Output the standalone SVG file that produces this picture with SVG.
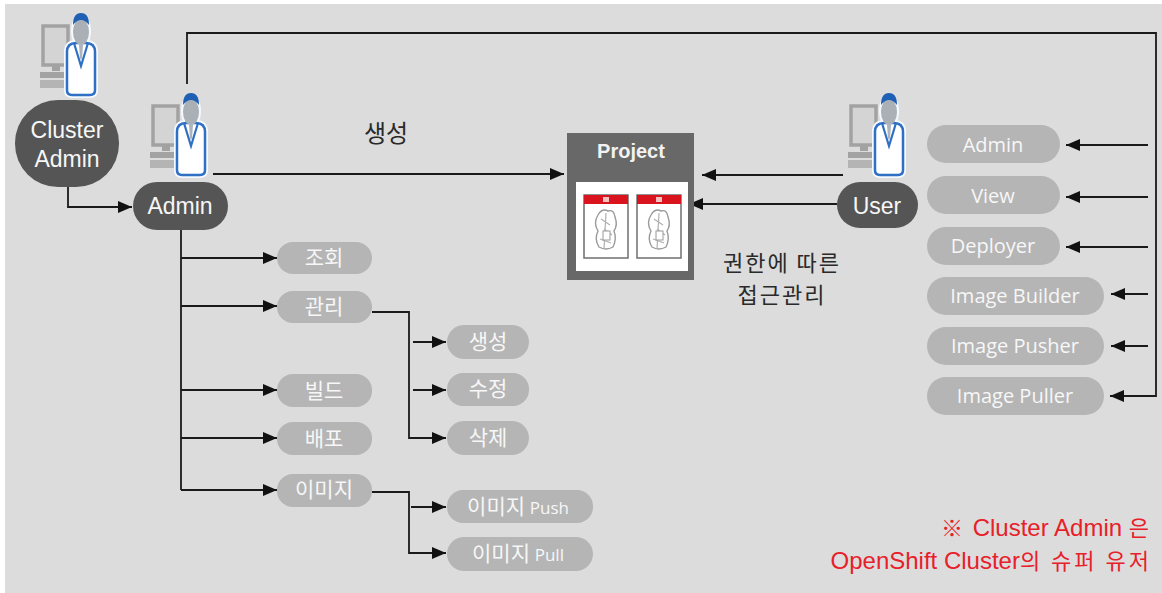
<svg xmlns="http://www.w3.org/2000/svg" xmlns:xlink="http://www.w3.org/1999/xlink" width="1162" height="593" viewBox="0 0 1162 593">
  <style>
    .dark { fill: #555555; }
    .pill { fill: #b5b5b5; }
    .wt { fill: #f7f7f7; font-family: "Liberation Sans", Arial, sans-serif; font-size: 23px; text-anchor: middle; }
    .kr { fill: #f7f7f7; font-family: "Noto Sans CJK KR", "Noto Sans", sans-serif; font-size: 21px; text-anchor: middle; }
    .en { fill: #f7f7f7; font-family: "Open Sans", "Noto Sans", sans-serif; font-size: 20px; text-anchor: middle; }
    .lbl { fill: #2a2a2a; font-family: "Noto Sans CJK KR", "Noto Sans", sans-serif; font-size: 24px; text-anchor: middle; }
    .lbl2 { fill: #2a2a2a; font-family: "Noto Sans CJK KR", "Noto Sans", sans-serif; font-size: 22px; letter-spacing: 2px; text-anchor: middle; }
    .note { fill: #e8202a; font-family: "Liberation Sans", Arial, "Noto Sans CJK KR", sans-serif; font-size: 24px; text-anchor: end; }
    .note .h { font-family: "Noto Sans CJK KR", sans-serif; font-size: 22px; letter-spacing: 3px; }
    .wire { fill: none; stroke: #1a1a1a; stroke-width: 1.8; }
    .arr { marker-end: url(#head); }
  </style>
  <defs>
    <marker id="head" markerUnits="userSpaceOnUse" markerWidth="14" markerHeight="12" refX="14" refY="6" orient="auto">
      <path d="M0,0 L14,6 L0,12 Z" fill="#111"/>
    </marker>
    <!-- workstation with a user standing next to it -->
    <symbol id="person" overflow="visible">
      <!-- monitor and keyboard -->
      <rect x="3" y="14" width="25" height="39" fill="#d4d4d4" stroke="#a2a2a2" stroke-width="3.5"/>
      <rect x="12" y="53" width="8" height="6" fill="#a2a2a2"/>
      <rect x="0" y="60" width="28" height="6" fill="#a2a2a2"/>
      <rect x="0" y="68" width="28" height="8" fill="#b4b4b4"/>
      <!-- halo -->
      <path d="M27,40 Q27,31 36,31 L46,31 Q55,31 55,40 L55,78 Q55,83 50,83 L32,83 Q27,83 27,78 Z" fill="#fff" stroke="#f4f8ff" stroke-width="6"/>
      <ellipse cx="41" cy="19" rx="10" ry="17" fill="#f4f8ff"/>
      <!-- body -->
      <path d="M27,40 Q27,31 36,31 L46,31 Q55,31 55,40 L55,78 Q55,83 50,83 L32,83 Q27,83 27,78 Z" fill="#ffffff" stroke="#2f6fc4" stroke-width="2.5"/>
      <path d="M34,31 L41,54 L48,31" fill="none" stroke="#2f6fc4" stroke-width="2.2"/>
      <path d="M39,33 L43,33 L42,46 L41,48 L40,46 Z" fill="#aeb4ba"/>
      <!-- head -->
      <ellipse cx="41" cy="20" rx="8" ry="13" fill="#aab0b6"/>
      <path d="M33,13 Q33,1 41,1 Q49,1 49,13 Q45,8 41,8 Q37,8 33,13 Z" fill="#1f5fb4"/>
    </symbol>
    <!-- document page with a red title bar -->
    <symbol id="doc" overflow="visible">
      <rect x="0" y="0" width="44" height="63" fill="#ffffff" stroke="#6f6f6f" stroke-width="1.5"/>
      <rect x="0" y="0" width="44" height="9" fill="#d9141f"/>
      <rect x="19" y="2" width="6" height="5" fill="#f4c0c0"/>
      <path d="M14,20 Q18,13 24,16 Q30,14 31,22 Q34,30 30,36 Q33,44 29,52 Q22,56 15,52 Q10,44 14,36 Q9,28 14,20 Z" fill="none" stroke="#9a9a9a" stroke-width="1.4"/>
      <path d="M17,24 L26,30 M20,34 L28,40 M16,44 L27,48 M22,18 L20,54" fill="none" stroke="#b0b0b0" stroke-width="1.2"/>
      <rect x="19" y="36" width="7" height="9" fill="#ffffff" stroke="#9a9a9a" stroke-width="1"/>
    </symbol>
  </defs>

  <!-- canvas -->
  <rect x="0" y="0" width="1162" height="593" fill="#ffffff"/>
  <rect x="5" y="4" width="1157" height="589" fill="#dcdcdc"/>

  <!-- connectors -->
  <g id="connectors">
    <path class="wire arr" d="M68,187 V207 H132"/>
    <path class="wire arr" d="M213,174 H564"/>
    <path class="wire arr" d="M187,84 V33 H1156 V396 H1110"/>
    <path class="wire arr" d="M843,175 H702"/>
    <path class="wire arr" d="M837,204 H689"/>
    <path class="wire arr" d="M1148,145 H1066"/>
    <path class="wire arr" d="M1148,197 H1066"/>
    <path class="wire arr" d="M1148,247 H1066"/>
    <path class="wire arr" d="M1148,294 H1111"/>
    <path class="wire arr" d="M1148,346 H1111"/>
    <path class="wire" d="M181,230 V490"/>
    <path class="wire arr" d="M181,258 H277"/>
    <path class="wire arr" d="M181,306 H277"/>
    <path class="wire arr" d="M181,390 H277"/>
    <path class="wire arr" d="M181,438 H277"/>
    <path class="wire arr" d="M181,490 H277"/>
    <path class="wire arr" d="M372,312 H409 V438 H446"/>
    <path class="wire arr" d="M413,342 H446"/>
    <path class="wire arr" d="M413,390 H446"/>
    <path class="wire arr" d="M372,492 H409 V553 H446"/>
    <path class="wire arr" d="M411,507 H446"/>
  </g>

  <!-- cluster admin -->
  <g id="cluster-admin">
    <use xlink:href="#person" href="#person" x="40" y="12"/>
    <rect class="dark" x="15" y="100" width="104" height="87" rx="43" ry="43"/>
    <text class="wt" x="67" y="138">Cluster</text>
    <text class="wt" x="67" y="167">Admin</text>
  </g>

  <!-- admin -->
  <g id="admin">
    <use xlink:href="#person" href="#person" x="150" y="92"/>
    <rect class="dark" x="133" y="182" width="95" height="48" rx="24"/>
    <text class="wt" x="180" y="214">Admin</text>
  </g>

  <text class="lbl" x="386" y="142">생성</text>

  <!-- project -->
  <g id="project">
    <rect x="567" y="133" width="127" height="147" fill="#686868"/>
    <text x="631" y="158" fill="#f2f2f2" font-family="Liberation Sans, Arial, sans-serif" font-size="20" font-weight="bold" text-anchor="middle">Project</text>
    <rect x="576" y="182" width="112" height="89" fill="#ffffff"/>
    <use xlink:href="#doc" href="#doc" x="584" y="195"/>
    <use xlink:href="#doc" href="#doc" x="637" y="195"/>
  </g>

  <text class="lbl2" x="782" y="271">권한에 따른</text>
  <text class="lbl2" x="782" y="303">접근관리</text>

  <!-- user -->
  <g id="user">
    <use xlink:href="#person" href="#person" x="848" y="92"/>
    <rect class="dark" x="837" y="182" width="81" height="46" rx="23"/>
    <text class="wt" x="877" y="214">User</text>
  </g>

  <!-- roles -->
  <g id="role-admin"><rect class="pill" x="927" y="125" width="133" height="38" rx="19"/><text class="en" x="993" y="152">Admin</text></g>
  <g id="role-view"><rect class="pill" x="927" y="176" width="133" height="38" rx="19"/><text class="en" x="993" y="203">View</text></g>
  <g id="role-deployer"><rect class="pill" x="927" y="227" width="133" height="38" rx="19"/><text class="en" x="993" y="253">Deployer</text></g>
  <g id="role-image-builder"><rect class="pill" x="927" y="277" width="177" height="38" rx="19"/><text class="en" x="1015" y="303">Image Builder</text></g>
  <g id="role-image-pusher"><rect class="pill" x="927" y="327" width="177" height="38" rx="19"/><text class="en" x="1015" y="353">Image Pusher</text></g>
  <g id="role-image-puller"><rect class="pill" x="927" y="377" width="177" height="38" rx="19"/><text class="en" x="1015" y="403">Image Puller</text></g>

  <!-- admin permissions -->
  <g id="perm-read"><rect class="pill" x="277" y="242" width="95" height="32" rx="16"/><text class="kr" x="324" y="265">조회</text></g>
  <g id="perm-manage"><rect class="pill" x="277" y="291" width="95" height="32" rx="16"/><text class="kr" x="324" y="314">관리</text></g>
  <g id="perm-build"><rect class="pill" x="277" y="374" width="95" height="33" rx="16"/><text class="kr" x="324" y="398">빌드</text></g>
  <g id="perm-deploy"><rect class="pill" x="277" y="422" width="95" height="33" rx="16"/><text class="kr" x="324" y="446">배포</text></g>
  <g id="perm-image"><rect class="pill" x="277" y="474" width="95" height="33" rx="16"/><text class="kr" x="324" y="497">이미지</text></g>
  <g id="perm-create"><rect class="pill" x="447" y="325" width="82" height="34" rx="17"/><text class="kr" x="488" y="349">생성</text></g>
  <g id="perm-edit"><rect class="pill" x="447" y="373" width="82" height="33" rx="16"/><text class="kr" x="488" y="396">수정</text></g>
  <g id="perm-delete"><rect class="pill" x="447" y="421" width="82" height="34" rx="17"/><text class="kr" x="488" y="445">삭제</text></g>
  <g id="perm-push"><rect class="pill" x="447" y="490" width="146" height="33" rx="16"/><text class="kr" x="518" y="514">이미지 <tspan font-family="Open Sans, sans-serif" font-size="17">Push</tspan></text></g>
  <g id="perm-pull"><rect class="pill" x="447" y="537" width="146" height="34" rx="17"/><text class="kr" x="518" y="561">이미지 <tspan font-family="Open Sans, sans-serif" font-size="17">Pull</tspan></text></g>

  <!-- footnote -->
  <text class="note" x="1152" y="536"><tspan class="h">※</tspan> Cluster Admin <tspan class="h">은</tspan></text>
  <text class="note" x="1152" y="569">OpenShift Cluster<tspan class="h">의 슈퍼 유저</tspan></text>
</svg>
